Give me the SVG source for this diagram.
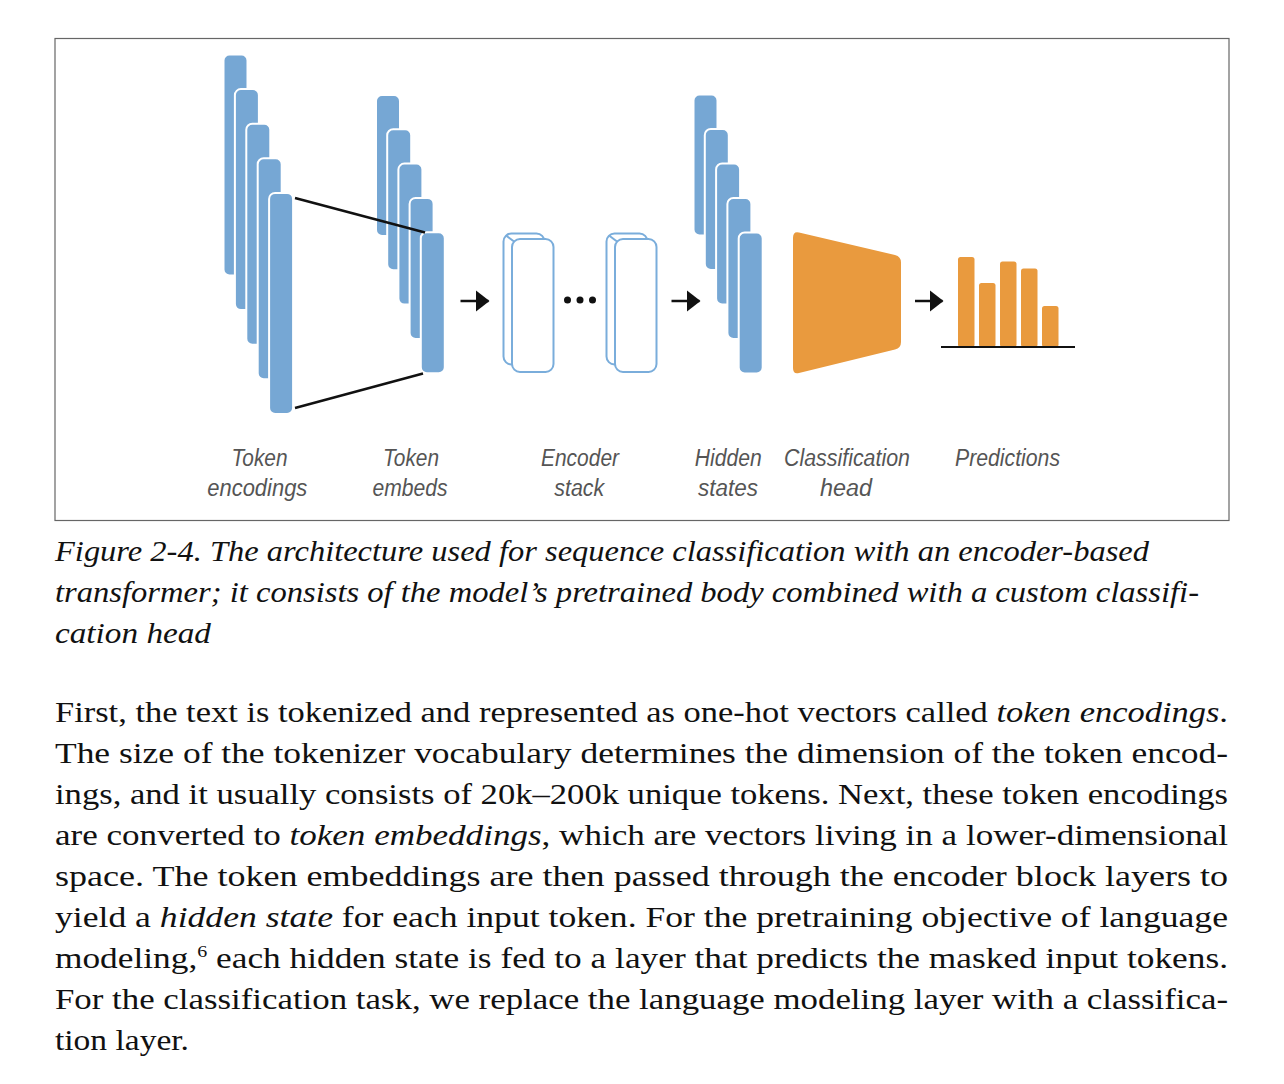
<svg xmlns="http://www.w3.org/2000/svg" width="1284" height="1084" viewBox="0 0 1284 1084">
<style>
.bar{fill:#76A7D4;stroke:#ffffff;stroke-width:2}
.enc{fill:#ffffff;stroke:#7AADDB;stroke-width:2}
.org{fill:#E99A3E}
.lbl{font-family:"Liberation Sans",Arial,sans-serif;font-style:italic;font-size:23px;fill:#555555;text-anchor:middle}
.cap{font-family:"Liberation Serif","Times New Roman",serif;font-style:italic;font-size:30px;fill:#111111}
.body{font-family:"Liberation Serif","Times New Roman",serif;font-size:30px;fill:#111111}
.it{font-style:italic}
.conn{stroke:#111111;stroke-width:2.5;fill:none}
</style>
<defs>
<marker id="ah" viewBox="0 0 14 22" refX="13" refY="11" markerWidth="14" markerHeight="22" markerUnits="userSpaceOnUse" orient="auto">
<path d="M0,0 L14,11 L0,22 Z" fill="#111111"/>
</marker>
</defs>
<rect x="55" y="38.5" width="1174" height="482" fill="#ffffff" stroke="#666666" stroke-width="1.2"/>

<g id="token-encodings">
<rect class="bar" x="223.5" y="54.5" width="24" height="221" rx="6"/>
<rect class="bar" x="234.9" y="89.1" width="24" height="221" rx="6"/>
<rect class="bar" x="246.3" y="123.7" width="24" height="221" rx="6"/>
<rect class="bar" x="257.7" y="158.3" width="24" height="221" rx="6"/>
<rect class="bar" x="269.1" y="192.9" width="24" height="221" rx="6"/>
</g>
<g id="token-embeds">
<rect class="bar" x="376" y="95" width="24" height="141" rx="6"/>
<rect class="bar" x="387.2" y="129.3" width="24" height="141" rx="6"/>
<rect class="bar" x="398.4" y="163.6" width="24" height="141" rx="6"/>
<rect class="bar" x="409.6" y="197.9" width="24" height="141" rx="6"/>
<rect class="bar" x="420.8" y="232.2" width="24" height="141" rx="6"/>
</g>
<g id="encoder-stack">
<rect class="enc" x="503.5" y="233.5" width="41" height="131" rx="8"/>
<rect class="enc" x="512" y="239" width="41.5" height="133" rx="8"/>
<line x1="506" y1="235.5" x2="514" y2="241.5" stroke="#7AADDB" stroke-width="2"/>
<circle cx="567.5" cy="300" r="3.5" fill="#111111"/>
<circle cx="580" cy="300" r="3.5" fill="#111111"/>
<circle cx="592.5" cy="300" r="3.5" fill="#111111"/>
<rect class="enc" x="606.5" y="233.5" width="41" height="131" rx="8"/>
<rect class="enc" x="615" y="239" width="41.5" height="133" rx="8"/>
<line x1="609" y1="235.5" x2="617" y2="241.5" stroke="#7AADDB" stroke-width="2"/>
</g>
<g id="hidden-states">
<rect class="bar" x="693.5" y="94.5" width="24" height="141" rx="6"/>
<rect class="bar" x="704.8" y="129" width="24" height="141" rx="6"/>
<rect class="bar" x="716.1" y="163.5" width="24" height="141" rx="6"/>
<rect class="bar" x="727.4" y="198" width="24" height="141" rx="6"/>
<rect class="bar" x="738.7" y="232.5" width="24" height="141" rx="6"/>
</g>
<g id="classification-head">
<path class="org" d="M799,232.5 L895,255 Q901,256.5 901,262.5 L901,342 Q901,348 895,349.5 L799,373 Q793,374.5 793,368 L793,238 Q793,231 799,232.5 Z"/>
</g>
<g id="predictions">
<rect class="org" x="958" y="257" width="16.5" height="90" rx="2.5"/>
<rect class="org" x="979" y="283" width="16.5" height="64" rx="2.5"/>
<rect class="org" x="1000" y="261.5" width="16.5" height="85.5" rx="2.5"/>
<rect class="org" x="1021" y="268.5" width="16.5" height="78.5" rx="2.5"/>
<rect class="org" x="1042" y="306" width="16.5" height="41" rx="2.5"/>
<line x1="941" y1="347" x2="1075" y2="347" stroke="#111111" stroke-width="2"/>
</g>
<g id="connectors">
<line class="conn" x1="295" y1="198" x2="425" y2="232.5"/>
<line class="conn" x1="295" y1="408" x2="423" y2="373.5"/>
<line class="conn" x1="460.5" y1="301" x2="488.5" y2="301" marker-end="url(#ah)"/>
<line class="conn" x1="671.5" y1="301" x2="699.5" y2="301" marker-end="url(#ah)"/>
<line class="conn" x1="915" y1="301" x2="942.5" y2="301" marker-end="url(#ah)"/>
</g>
<g id="labels">
<text class="lbl" x="259.5" y="465.5" textLength="56" lengthAdjust="spacingAndGlyphs">Token</text>
<text class="lbl" x="257.3" y="495.5" textLength="100" lengthAdjust="spacingAndGlyphs">encodings</text>
<text class="lbl" x="411" y="465.5" textLength="56" lengthAdjust="spacingAndGlyphs">Token</text>
<text class="lbl" x="410" y="495.5" textLength="75" lengthAdjust="spacingAndGlyphs">embeds</text>
<text class="lbl" x="580" y="465.5" textLength="78" lengthAdjust="spacingAndGlyphs">Encoder</text>
<text class="lbl" x="579.3" y="495.5" textLength="50" lengthAdjust="spacingAndGlyphs">stack</text>
<text class="lbl" x="728.3" y="465.5" textLength="67" lengthAdjust="spacingAndGlyphs">Hidden</text>
<text class="lbl" x="728" y="495.5" textLength="60" lengthAdjust="spacingAndGlyphs">states</text>
<text class="lbl" x="847" y="465.5" textLength="126" lengthAdjust="spacingAndGlyphs">Classification</text>
<text class="lbl" x="846" y="495.5" textLength="52" lengthAdjust="spacingAndGlyphs">head</text>
<text class="lbl" x="1007.5" y="465.5" textLength="105" lengthAdjust="spacingAndGlyphs">Predictions</text>
</g>
<g id="caption">
<text class="cap" x="55" y="561" textLength="1094" lengthAdjust="spacingAndGlyphs">Figure 2-4. The architecture used for sequence classification with an encoder-based</text>
<text class="cap" x="55" y="602" textLength="1144" lengthAdjust="spacingAndGlyphs">transformer; it consists of the model’s pretrained body combined with a custom classifi-</text>
<text class="cap" x="55" y="643" textLength="156" lengthAdjust="spacingAndGlyphs">cation head</text>
</g>
<g id="body">
<text class="body" x="55" y="722" textLength="1173" lengthAdjust="spacingAndGlyphs">First, the text is tokenized and represented as one-hot vectors called <tspan class="it">token encodings</tspan>.</text>
<text class="body" x="55" y="763" textLength="1173" lengthAdjust="spacingAndGlyphs">The size of the tokenizer vocabulary determines the dimension of the token encod-</text>
<text class="body" x="55" y="804" textLength="1173" lengthAdjust="spacingAndGlyphs">ings, and it usually consists of 20k–200k unique tokens. Next, these token encodings</text>
<text class="body" x="55" y="845" textLength="1173" lengthAdjust="spacingAndGlyphs">are converted to <tspan class="it">token embeddings</tspan>, which are vectors living in a lower-dimensional</text>
<text class="body" x="55" y="886" textLength="1173" lengthAdjust="spacingAndGlyphs">space. The token embeddings are then passed through the encoder block layers to</text>
<text class="body" x="55" y="927" textLength="1173" lengthAdjust="spacingAndGlyphs">yield a <tspan class="it">hidden state</tspan> for each input token. For the pretraining objective of language</text>
<text class="body" x="55" y="968" textLength="1173" lengthAdjust="spacingAndGlyphs">modeling,<tspan font-size="17" dy="-11">6</tspan><tspan dy="11"> each hidden state is fed to a layer that predicts the masked input tokens.</tspan></text>
<text class="body" x="55" y="1009" textLength="1173" lengthAdjust="spacingAndGlyphs">For the classification task, we replace the language modeling layer with a classifica-</text>
<text class="body" x="55" y="1050" textLength="134" lengthAdjust="spacingAndGlyphs">tion layer.</text>
</g>
</svg>
